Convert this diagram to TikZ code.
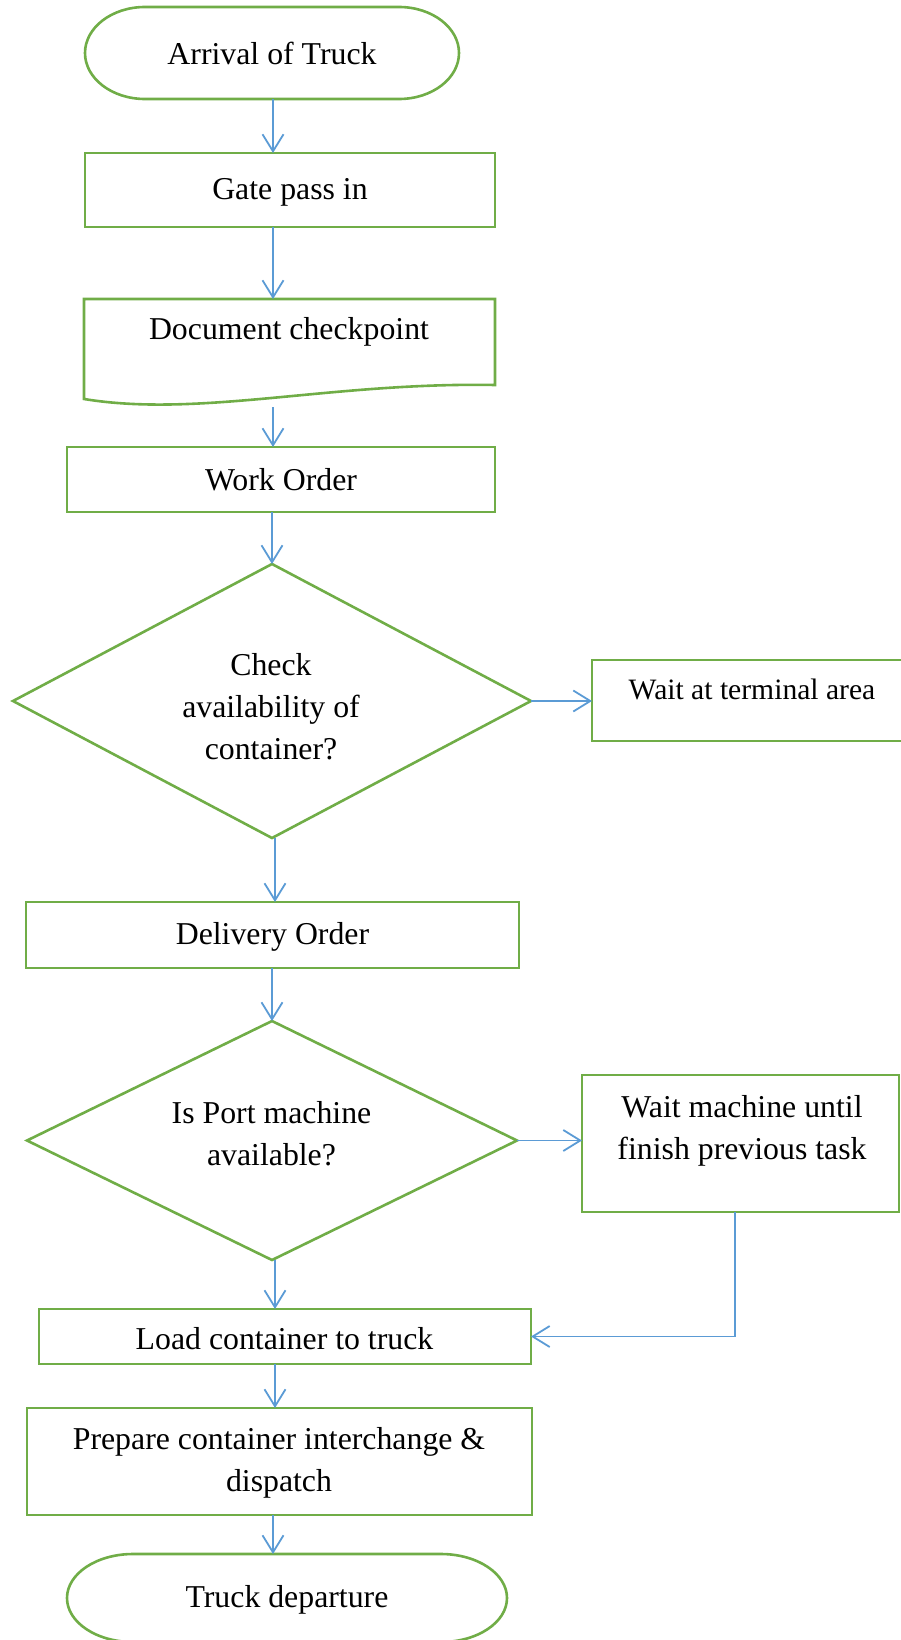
\documentclass[tikz,border=0pt]{standalone}
\usepackage{fontspec}
\setmainfont{Liberation Serif}
\usetikzlibrary{arrows.meta,calc}
\definecolor{boxgreen}{HTML}{70AD47}
\definecolor{flowblue}{HTML}{5B9BD5}

% outline of a terminator: straight top and bottom, elliptic ends
\newcommand\termoutline[3]{%
  \draw[boxline] ([xshift=#2]#1.north west) -- ([xshift=-#2]#1.north east)
    arc[start angle=90,end angle=-90,x radius=#2,y radius=#3]
    -- ([xshift=#2]#1.south west)
    arc[start angle=270,end angle=90,x radius=#2,y radius=#3] -- cycle;}

\begin{document}
\begin{tikzpicture}[x=1pt,y=-1pt,
  every node/.style={font=\fontsize{31.8}{42}\selectfont,inner sep=0pt,outer sep=0pt,align=center},
  boxline/.style={draw=boxgreen,line width=2.6pt,line join=miter},
  procbox/.style={boxline},
  plainbox/.style={draw=none},
  arr/.style={draw=flowblue,line width=1.8pt,
    -{Straight Barb[length=17pt,width=21pt,line width=1.8pt]}},
  thinarr/.style={arr,line width=1.2pt}]
\useasboundingbox (0,0) rectangle (901,1640);

% start
\node[plainbox,minimum width=374pt,minimum height=92pt] (start) at (272,53) {Arrival of Truck};
\termoutline{start}{60pt}{46pt}

% gate
\node[procbox,minimum width=410pt,minimum height=74pt] (gate) at (290,190) {};
\node (gatetext) at (290,192) {Gate pass in};

% document shape
\node[plainbox,minimum width=411pt,minimum height=100pt] (doc) at (289.5,349) {};
\draw[boxline] (doc.south west) -- (doc.north west) -- (doc.north east)
  -- ([yshift=14pt]doc.south east) .. controls (330,382) and (200,418) .. (doc.south west) -- cycle;
\node (doctext) at (289,332) {Document checkpoint};

% work order
\node[procbox,minimum width=428pt,minimum height=65pt] (wo) at (281,479.5) {Work Order};

% decision: container
\node[plainbox,minimum width=518pt,minimum height=274pt] (chk) at (272,701) {};
\draw[boxline] (chk.north) -- (chk.east) -- (chk.south) -- (chk.west) -- cycle;
\node (chktext) at (271,707) {Check\\availability of\\container?};

% wait at terminal
\node[procbox,minimum width=320pt,minimum height=81pt] (wta) at (752,700.5) {};
\node[font=\fontsize{29.6}{40}\selectfont] (wtatext) at (752,689) {Wait at terminal area};

% delivery order
\node[procbox,minimum width=493pt,minimum height=66pt] (dlv) at (272.5,935) {};
\node (dlvtext) at (272.5,937) {Delivery Order};

% decision: port machine
\node[plainbox,minimum width=490pt,minimum height=239pt] (port) at (272,1140.5) {};
\draw[boxline] (port.north) -- (port.east) -- (port.south) -- (port.west) -- cycle;
\node (porttext) at (271.5,1134) {Is Port machine\\available?};

% wait machine
\node[procbox,minimum width=317pt,minimum height=137pt] (wm) at (740.5,1143.5) {};
\node (wmtext) at (742,1131) {Wait machine until\\finish previous task};

% load
\node[procbox,minimum width=492pt,minimum height=55pt] (load) at (285,1336.5) {};
\node (loadtext) at (284.5,1339) {Load container to truck};

% prepare
\node[procbox,minimum width=505pt,minimum height=107pt] (prep) at (279.5,1461.5) {};
\node (preptext) at (279,1463) {Prepare container interchange \&\\dispatch};

% end
\node[plainbox,minimum width=440pt,minimum height=88pt] (fin) at (287,1598) {};
\node (fintext) at (287,1600) {Truck departure};
\termoutline{fin}{66pt}{44pt}

% connectors
\coordinate (ax) at (273,0);
\coordinate (bx) at (275,0);
\coordinate (rx) at (735,0);
\coordinate (docb) at ([yshift=-8pt]doc.south);
\draw[arr] (start.south -| ax) -- (gate.north -| ax);
\draw[arr] (gate.south -| ax) -- (doc.north -| ax);
\draw[arr] (docb -| ax) -- (wo.north -| ax);
\draw[arr] (wo.south -| chk.north) -- (chk.north);
\draw[arr] (chk.east) -- (chk.east -| wta.west);
\draw[arr] (chk.south -| bx) -- (dlv.north -| bx);
\draw[arr] (dlv.south -| port.north) -- (port.north);
\draw[arr] (port.east) -- (port.east -| wm.west);
\draw[arr] (port.south -| bx) -- (load.north -| bx);
\draw[arr] (load.south -| bx) -- (prep.north -| bx);
\draw[arr] (prep.south -| ax) -- (fin.north -| ax);
\draw[thinarr] (wm.south -| rx) |- (load.east);
\end{tikzpicture}
\end{document}
